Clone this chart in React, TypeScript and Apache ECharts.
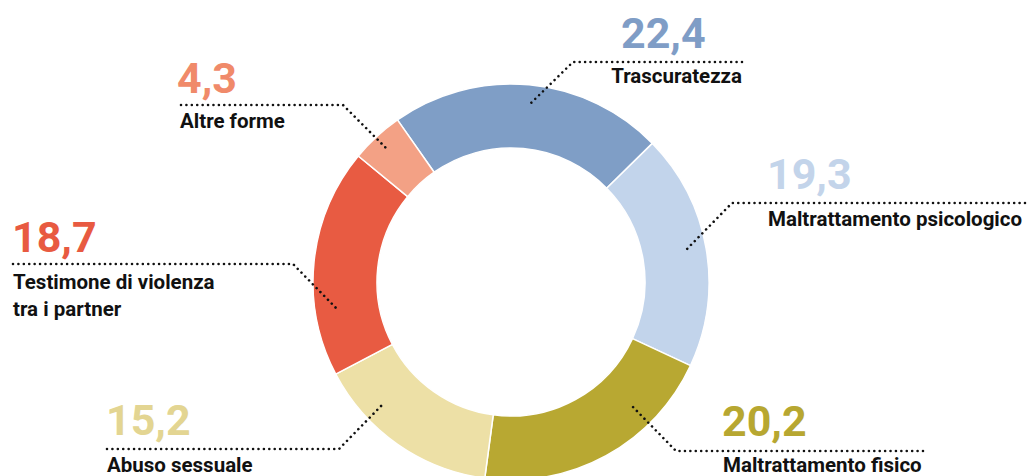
import React, { useEffect, useRef } from "react";
import * as echarts from "echarts";

const categories = [
  "Trascuratezza",
  "Maltrattamento psicologico",
  "Maltrattamento fisico",
  "Abuso sessuale",
  "Testimone di violenza\ntra i partner",
  "Altre forme",
];
const values = [22.4, 19.3, 20.2, 15.2, 18.7, 4.3];

const sliceColors = ["#7f9ec6", "#c2d4eb", "#b8a832", "#ede0a6", "#e85b42", "#f3a185"];
const valueColors = ["#7f9dc6", "#c3d4ea", "#b7a731", "#e3d592", "#e85a41", "#f08a6a"];

// label layout: value text anchor, name text anchor, leader line points
type Lay = {
  vx: number; vy: number; vAlign: "left" | "right";
  nx: number; ny: number; nAlign: "left" | "right";
  line: number[][];
};
const layout: Lay[] = [
  { vx: 621, vy: 33, vAlign: "left", nx: 742, ny: 76, nAlign: "right", line: [[742, 62], [573, 62], [528, 106]] },
  { vx: 767, vy: 174, vAlign: "left", nx: 768, ny: 219, nAlign: "left", line: [[1025, 203], [732, 203], [687, 249]] },
  { vx: 722, vy: 421, vAlign: "left", nx: 723, ny: 465, nAlign: "left", line: [[923, 451], [676, 451], [632, 406]] },
  { vx: 106, vy: 420, vAlign: "left", nx: 107, ny: 465, nAlign: "left", line: [[107, 449], [339, 449], [384, 403]] },
  { vx: 12, vy: 237, vAlign: "left", nx: 13, ny: 282, nAlign: "left", line: [[13, 264], [293, 264], [337, 309]] },
  { vx: 177, vy: 78, vAlign: "left", nx: 180, ny: 121, nAlign: "left", line: [[181, 105], [343, 105], [388, 150]] },
];

const FONT = "Roboto, 'Noto Sans', sans-serif";

export default function App() {
  const ref = useRef<HTMLDivElement>(null);
  useEffect(() => {
    if (!ref.current) return;
    const chart = echarts.init(ref.current, undefined, { renderer: "svg" });
    const graphics: any[] = [];
    layout.forEach((l, i) => {
      graphics.push({
        type: "polyline",
        silent: true,
        shape: { points: l.line },
        style: {
          stroke: "#111",
          fill: null,
          lineWidth: 2.6,
          lineCap: "round",
          lineDash: [0.01, 5.4],
        },
        z: 10,
      });
      graphics.push({
        type: "text",
        silent: true,
        x: l.vx,
        y: l.vy,
        style: {
          text: values[i].toFixed(1).replace(".", ","),
          fill: valueColors[i],
          font: `bold 43px ${FONT}`,
          align: l.vAlign,
          verticalAlign: "middle",
        },
        z: 10,
      });
      graphics.push({
        type: "text",
        silent: true,
        x: l.nx,
        y: l.ny - 13.5,
        style: {
          text: categories[i],
          fill: "#111",
          font: `bold 20.5px ${FONT}`,
          align: l.nAlign,
          verticalAlign: "top",
          lineHeight: 27,
        },
        z: 10,
      });
    });
    chart.setOption({
      animation: false,
      series: [
        {
          type: "pie",
          center: [511, 282],
          radius: [134, 198],
          startAngle: 125,
          clockwise: true,
          silent: true,
          label: { show: false },
          labelLine: { show: false },
          itemStyle: { borderColor: "#ffffff", borderWidth: 1.5 },
          data: categories.map((c, i) => ({
            name: c,
            value: values[i],
            itemStyle: { color: sliceColors[i] },
          })),
        },
      ],
      graphic: graphics,
    });
    return () => chart.dispose();
  }, []);
  return (
    <div
      ref={ref}
      style={{ position: "fixed", left: 0, top: 0, width: 1029, height: 476, background: "#fff" }}
    />
  );
}
